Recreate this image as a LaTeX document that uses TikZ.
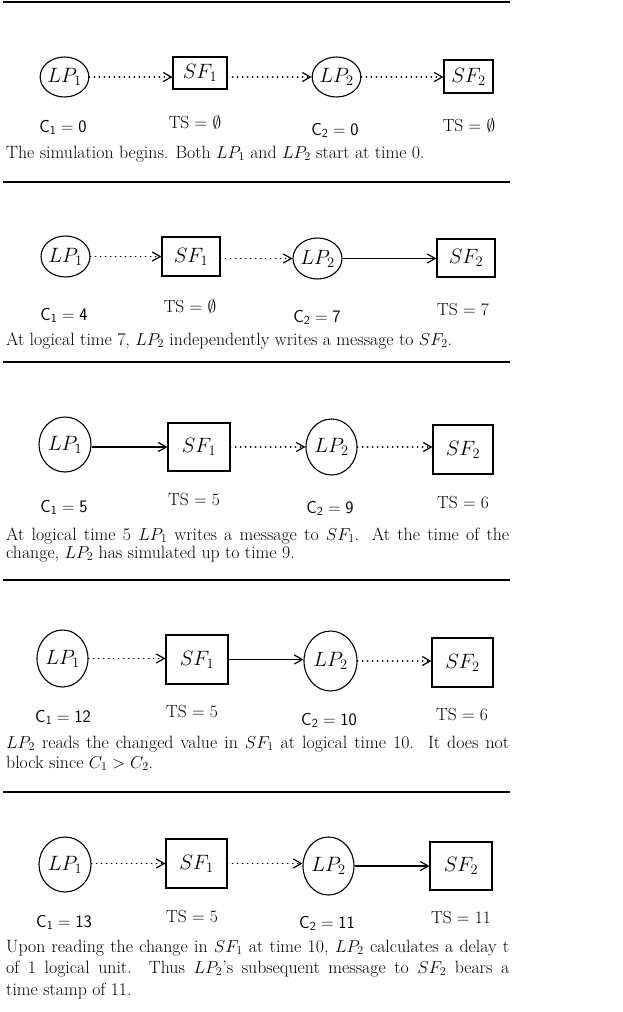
\documentclass[tikz,border=0pt]{standalone}
\usepackage{amssymb}
\usepackage{fontspec}
\usetikzlibrary{shapes.geometric,arrows.meta}
\tikzset{
  lp/.style={ellipse, draw, line width=1.1pt, inner sep=0pt, font=\fontsize{20.5}{24}\selectfont},
  sf/.style={rectangle, draw, line width=1.1pt, inner sep=0pt, font=\fontsize{20.5}{24}\selectfont},
  lab/.style={anchor=base, inner sep=0pt, font=\fontsize{17.5}{20}\selectfont},
  captext/.style={anchor=base west, inner sep=0pt, font=\fontsize{17.8}{20}\selectfont},
  rulestyle/.style={line width=1.1pt},
  msg/.style={line width=1.1pt, -{Straight Barb[length=8pt,width=9pt,line width=1.2pt]}},
  dmsg/.style={msg, line width=1.9pt, line cap=round, dash pattern=on 0.1pt off 4.9pt},
}
\newcommand{\jline}[1]{\makebox[503pt][s]{#1}}
\begin{document}
\begin{tikzpicture}[x=1pt,y=-1pt]
\useasboundingbox (0,0) rectangle (622,1012);
% rules
\draw[rulestyle] (3,2) -- (510,2);
\draw[rulestyle] (3,182) -- (510,182);
\draw[rulestyle] (3,362) -- (510,362);
\draw[rulestyle] (3,580) -- (510,580);
\draw[rulestyle] (3,792) -- (510,792);

% ---------- Panel 1
\node[lp, minimum width=45pt, minimum height=40pt] (a1) at (64.5,77) {$LP_1$};
\node[sf, minimum width=54pt, minimum height=32pt] (b1) at (200,73) {$SF_1$};
\node[lp, minimum width=43pt, minimum height=40pt] (c1) at (336.5,77) {$LP_2$};
\node[sf, minimum width=49pt, minimum height=33pt] (d1) at (468.5,76.5) {$SF_2$};
\draw[dmsg] (a1.east) -- (b1.west |- a1.east);
\draw[dmsg] (b1.east |- c1.west) -- (c1.west);
\draw[dmsg] (c1.east) -- (d1.west |- c1.east);
\node[lab] (la1) at (63,132) {$\mathsf{C_1 = 0}$};
\node[lab] (lb1) at (195,128) {TS = $\emptyset$};
\node[lab] (lc1) at (335,135) {$\mathsf{C_2 = 0}$};
\node[lab] (ld1) at (469,131) {TS = $\emptyset$};
\node[captext] (t1) at (6,158) {The simulation begins. Both $LP_1$ and $LP_2$ start at time 0.};

% ---------- Panel 2
\node[lp, minimum width=49pt, minimum height=41pt] (a2) at (65.5,256.5) {$LP_1$};
\node[sf, minimum width=58pt, minimum height=39pt] (b2) at (191,256.5) {$SF_1$};
\node[lp, minimum width=49pt, minimum height=41pt] (c2) at (317.5,258.5) {$LP_2$};
\node[sf, minimum width=58pt, minimum height=38pt] (d2) at (466,258) {$SF_2$};
\draw[dmsg] (a2.east) -- (b2.west |- a2.east);
\draw[dmsg] (b2.east |- c2.west) -- (c2.west);
\draw[msg] (c2.east) -- (d2.west |- c2.east);
\node[lab] (la2) at (64,320) {$\mathsf{C_1 = 4}$};
\node[lab] (lb2) at (190,312) {TS = $\emptyset$};
\node[lab] (lc2) at (317,322) {$\mathsf{C_2 = 7}$};
\node[lab] (ld2) at (463,315) {TS = 7};
\node[captext] (t2) at (6,345) {At logical time 7, $LP_2$ independently writes a message to $SF_2$.};

% ---------- Panel 3
\node[lp, minimum width=52pt, minimum height=55pt] (a3) at (65,444.5) {$LP_1$};
\node[sf, minimum width=62pt, minimum height=48pt] (b3) at (199,447) {$SF_1$};
\node[lp, minimum width=51pt, minimum height=56pt] (c3) at (331.5,447) {$LP_2$};
\node[sf, minimum width=60pt, minimum height=49pt] (d3) at (463,449.5) {$SF_2$};
\draw[msg] (a3.east |- b3.west) -- (b3.west);
\draw[dmsg] (b3.east) -- (c3.west);
\draw[dmsg] (c3.east) -- (d3.west |- c3.east);
\node[lab] (la3) at (64,512) {$\mathsf{C_1 = 5}$};
\node[lab] (lb3) at (194,505) {TS = 5};
\node[lab] (lc3) at (330,513) {$\mathsf{C_2 = 9}$};
\node[lab] (ld3) at (463,508) {TS = 6};
\node[captext] (t3a) at (6,540) {\jline{At logical time 5 $LP_1$ writes a message to $SF_1$. At the time of the}};
\node[captext] (t3b) at (6,558) {change, $LP_2$ has simulated up to time 9.};

% ---------- Panel 4
\node[lp, minimum width=51pt, minimum height=57pt] (a4) at (62.5,658.5) {$LP_1$};
\node[sf, minimum width=62pt, minimum height=49pt] (b4) at (197,659.5) {$SF_1$};
\node[lp, minimum width=53pt, minimum height=60pt] (c4) at (330.5,661) {$LP_2$};
\node[sf, minimum width=61pt, minimum height=49pt] (d4) at (462.5,662.5) {$SF_2$};
\draw[dmsg] (a4.east) -- (b4.west |- a4.east);
\draw[msg] (b4.east) -- (c4.west |- b4.east);
\draw[dmsg] (c4.east) -- (d4.west |- c4.east);
\node[lab] (la4) at (63,722) {$\mathsf{C_1 = 12}$};
\node[lab] (lb4) at (192,717) {TS = 5};
\node[lab] (lc4) at (329,725) {$\mathsf{C_2 = 10}$};
\node[lab] (ld4) at (462,720) {TS = 6};
\node[captext] (t4a) at (6,748) {\jline{$LP_2$ reads the changed value in $SF_1$ at logical time 10.\ \ It does not}};
\node[captext] (t4b) at (6,768) {block since $C_1 > C_2$.};

% ---------- Panel 5
\node[lp, minimum width=52pt, minimum height=55pt] (a5) at (65,864.5) {$LP_1$};
\node[sf, minimum width=61pt, minimum height=49pt] (b5) at (196.5,863.5) {$SF_1$};
\node[lp, minimum width=51pt, minimum height=58pt] (c5) at (328.5,866) {$LP_2$};
\node[sf, minimum width=62pt, minimum height=48pt] (d5) at (461,866) {$SF_2$};
\draw[dmsg] (a5.east |- b5.west) -- (b5.west);
\draw[dmsg] (b5.east) -- (c5.west |- b5.east);
\draw[msg] (c5.east) -- (d5.west |- c5.east);
\node[lab] (la5) at (64,927) {$\mathsf{C_1 = 13}$};
\node[lab] (lb5) at (192,922) {TS = 5};
\node[lab] (lc5) at (327,928) {$\mathsf{C_2 = 11}$};
\node[lab] (ld5) at (461,923) {TS = 11};
\node[captext] (t5a) at (6,952) {\jline{Upon reading the change in $SF_1$ at time 10, $LP_2$ calculates a delay t}};
\node[captext] (t5b) at (6,973) {\jline{of 1 logical unit.\ \ Thus $LP_2$'s subsequent message to $SF_2$ bears a}};
\node[captext] (t5c) at (6,995) {time stamp of 11.};
\end{tikzpicture}
\end{document}
